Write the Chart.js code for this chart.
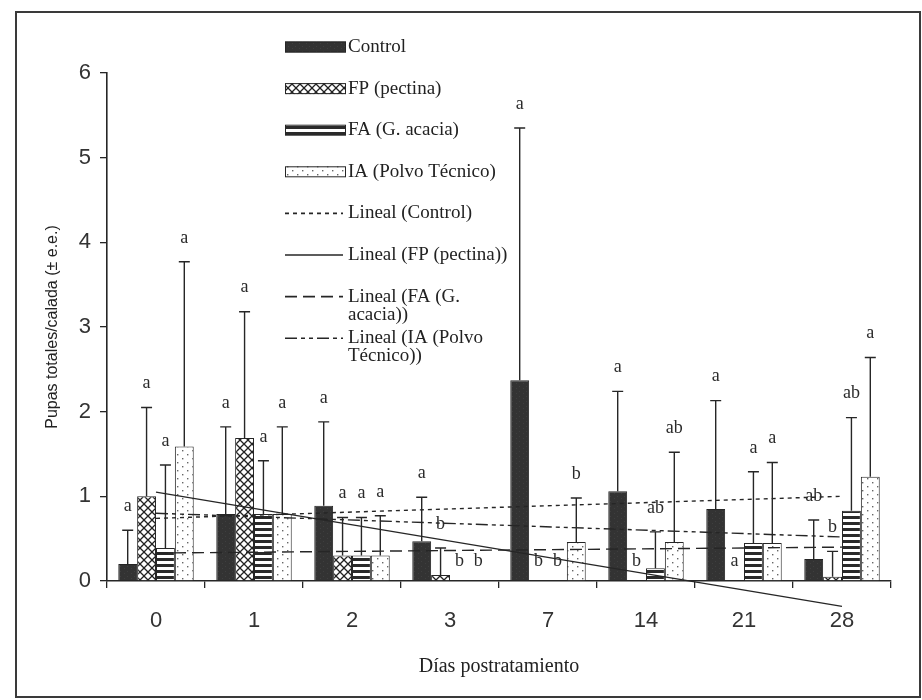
<!DOCTYPE html>
<html>
<head>
<meta charset="utf-8">
<title>Pupas totales/calada</title>
<script src="https://cdn.jsdelivr.net/npm/chart.js@4.4.0/dist/chart.umd.min.js"></script>
<style>
    html, body { margin: 0; padding: 0; background: #fff; }
    #wrap { width: 922px; height: 700px; }
</style>
</head>
<body>
<div id="wrap"><canvas id="myChart" width="922" height="700"></canvas></div>
<script>
/* Pupas totales por calada, por tratamiento y día postratamiento */
const dias = ['0', '1', '2', '3', '7', '14', '21', '28'];

// medias
const control = [0.20, 0.79, 0.89, 0.47, 2.37, 1.06, 0.85, 0.26];
const fp      = [1.00, 1.69, 0.30, 0.07, 0, 0, 0, 0.05];
const fa      = [0.39, 0.79, 0.30, 0, 0, 0.15, 0.45, 0.83];
const ia      = [1.59, 0.79, 0.30, 0, 0.46, 0.46, 0.45, 1.23];

// error estándar (solo hacia arriba)
const controlErr = [0.40, 1.03, 0.99, 0.52, 2.98, 1.18, 1.28, 0.46];
const fpErr      = [1.05, 1.49, 0.45, 0.32, 0, 0, 0, 0.30];
const faErr      = [0.98, 0.63, 0.45, 0, 0, 0.43, 0.84, 1.10];
const iaErr      = [2.18, 1.03, 0.47, 0, 0.52, 1.06, 0.95, 1.41];

// letras de significancia
const controlSig = ['a', 'a', 'a', 'a', 'a', 'a', 'a', 'ab'];
const fpSig      = ['a', 'a', 'a', 'b', 'b', 'b', 'a', 'b'];
const faSig      = ['a', 'a', 'a', 'b', 'b', 'ab', 'a', 'ab'];
const iaSig      = ['a', 'a', 'a', 'b', 'b', 'ab', 'a', 'a'];

// líneas de tendencia (valor en día 0 y en día 28)
const trendControl = [0.74, 1.00];
const trendFp      = [1.05, -0.30];
const trendFa      = [0.33, 0.40];
const trendIa      = [0.80, 0.52];

const serif = '"Liberation Serif", "Times New Roman", serif';
const sans = '"Liberation Sans", Arial, sans-serif';
const ink = '#262626';

let ctx = document.getElementById('myChart').getContext('2d');

function pattern(w, h, draw) {
    let c = document.createElement('canvas');
    c.width = w;
    c.height = h;
    draw(c.getContext('2d'));
    return ctx.createPattern(c, 'repeat');
}

// relleno oscuro con grano fino
let patControl = pattern(7, 5, function (g) {
    g.fillStyle = '#333';
    g.fillRect(0, 0, 7, 5);
    g.fillStyle = '#3f3f3f';
    g.fillRect(1, 1, 1, 1);
    g.fillRect(5, 3, 1, 1);
});
// cuadriculado diagonal
let patFp = pattern(8, 8, function (g) {
    g.fillStyle = '#fff';
    g.fillRect(0, 0, 8, 8);
    g.strokeStyle = '#222';
    g.lineWidth = 1.3;
    g.beginPath();
    g.moveTo(0, 0); g.lineTo(8, 8);
    g.moveTo(8, 0); g.lineTo(0, 8);
    g.stroke();
});
// rayas horizontales
let patFa = pattern(8, 6, function (g) {
    g.fillStyle = '#fff';
    g.fillRect(0, 0, 8, 6);
    g.fillStyle = '#2a2a2a';
    g.fillRect(0, 0, 8, 3);
});
// punteado
let patIa = pattern(10, 8, function (g) {
    g.fillStyle = '#fff';
    g.fillRect(0, 0, 10, 8);
    g.fillStyle = '#666';
    g.fillRect(2, 2, 1.4, 1.4);
    g.fillRect(7, 6, 1.4, 1.4);
});

function barSet(label, data, errors, letters, fill) {
    return {
        type: 'bar',
        label: label,
        data: data,
        errors: errors,
        letters: letters,
        backgroundColor: fill,
        borderColor: ink,
        borderWidth: 1,
        barPercentage: 1,
        categoryPercentage: 0.77,
        order: 1
    };
}

function trendSet(label, ends, dash) {
    return {
        type: 'line',
        label: label,
        data: [{x: dias[0], y: ends[0]}, {x: dias[dias.length - 1], y: ends[1]}],
        borderColor: ink,
        borderWidth: 1.4,
        borderDash: dash,
        pointRadius: 0,
        fill: false,
        clip: false,
        order: 0
    };
}

/* marco de la figura */
const frame = {
    id: 'frame',
    beforeDraw(chart) {
        let c = chart.ctx;
        c.save();
        c.fillStyle = '#fff';
        c.fillRect(0, 0, chart.width, chart.height);
        c.strokeStyle = '#3a3a3a';
        c.lineWidth = 2;
        c.strokeRect(16, 12, 904, 685);
        c.restore();
    }
};

/* barras de error y letras */
const errorBars = {
    id: 'errorBars',
    afterDatasetsDraw(chart) {
        let c = chart.ctx;
        let y = chart.scales.y;
        c.save();
        c.strokeStyle = ink;
        c.fillStyle = '#2a2a2a';
        c.lineWidth = 1.4;
        c.font = '18px ' + serif;
        c.textAlign = 'center';
        c.textBaseline = 'middle';
        chart.data.datasets.forEach(function (ds, i) {
            if (!ds.errors) return;
            chart.getDatasetMeta(i).data.forEach(function (bar, j) {
                let e = ds.errors[j];
                let top = y.getPixelForValue(ds.data[j] + e);
                if (e > 0) {
                    c.beginPath();
                    c.moveTo(bar.x, bar.y);
                    c.lineTo(bar.x, top);
                    c.moveTo(bar.x - 5.5, top);
                    c.lineTo(bar.x + 5.5, top);
                    c.stroke();
                }
                c.fillText(ds.letters[j], bar.x, top - (e > 0 ? 24 : 20));
            });
        });
        c.restore();
    }
};

/* leyenda dentro del área del gráfico */
const insideLegend = {
    id: 'insideLegend',
    afterDraw(chart) {
        let c = chart.ctx;
        let x0 = 285, textX = 348, y0 = 47, step = 41.6, maxW = 163, lineH = 18;
        c.save();
        c.font = '19px ' + serif;
        c.textBaseline = 'middle';
        c.fillStyle = '#222';
        chart.data.datasets.forEach(function (ds, i) {
            let yc = y0 + i * step;
            c.strokeStyle = ink;
            if (ds.type === 'bar') {
                c.fillStyle = ds.backgroundColor;
                c.fillRect(x0, yc - 5.5, 61, 11);
                c.lineWidth = 1;
                c.setLineDash([]);
                c.strokeRect(x0 + 0.5, yc - 5, 60, 10);
            } else {
                c.lineWidth = 1.6;
                c.setLineDash(ds.borderDash || []);
                c.beginPath();
                c.moveTo(x0, yc);
                c.lineTo(x0 + 58, yc);
                c.stroke();
                c.setLineDash([]);
            }
            // texto con salto de línea
            let words = ds.label.split(' ');
            let lines = [];
            let cur = '';
            words.forEach(function (w) {
                let test = cur ? cur + ' ' + w : w;
                if (cur && c.measureText(test).width > maxW) {
                    lines.push(cur);
                    cur = w;
                } else {
                    cur = test;
                }
            });
            lines.push(cur);
            c.fillStyle = '#222';
            lines.forEach(function (t, k) {
                c.fillText(t, textX, yc + k * lineH);
            });
        });
        c.restore();
    }
};

let myChart = new Chart(ctx, {
    type: 'bar',
    data: {
        labels: dias,
        datasets: [
            barSet('Control', control, controlErr, controlSig, patControl),
            barSet('FP (pectina)', fp, fpErr, fpSig, patFp),
            barSet('FA (G. acacia)', fa, faErr, faSig, patFa),
            barSet('IA (Polvo Técnico)', ia, iaErr, iaSig, patIa),
            trendSet('Lineal (Control)', trendControl, [4, 4]),
            trendSet('Lineal (FP (pectina))', trendFp, []),
            trendSet('Lineal (FA (G. acacia))', trendFa, [12, 6]),
            trendSet('Lineal (IA (Polvo Técnico))', trendIa, [12, 4, 4, 4, 4, 4])
        ]
    },
    options: {
        responsive: false,
        animation: false,
        events: [],
        layout: {
            padding: {top: 73, right: 31, bottom: 0, left: 0}
        },
        plugins: {
            legend: {display: false},
            tooltip: {enabled: false}
        },
        scales: {
            x: {
                grid: {
                    display: true,
                    drawOnChartArea: false,
                    drawTicks: true,
                    tickLength: 7,
                    color: ink,
                    lineWidth: 1.3,
                    offset: true
                },
                border: {display: true, color: ink, width: 1.6},
                ticks: {
                    color: '#333',
                    font: {family: sans, size: 22},
                    padding: 20
                },
                title: {
                    display: true,
                    text: 'Días postratamiento',
                    color: '#222',
                    font: {family: serif, size: 20},
                    padding: {top: 0, bottom: 21}
                },
                afterFit: function (s) { s.height = 119; }
            },
            y: {
                min: 0,
                max: 6,
                grid: {
                    display: true,
                    drawOnChartArea: false,
                    drawTicks: true,
                    tickLength: 7,
                    color: ink,
                    lineWidth: 1.3
                },
                border: {display: true, color: ink, width: 1.6},
                ticks: {
                    stepSize: 1,
                    color: '#333',
                    font: {family: sans, size: 22},
                    padding: 9
                },
                title: {
                    display: true,
                    text: 'Pupas totales/calada (± e.e.)',
                    color: '#222',
                    font: {family: sans, size: 16},
                    padding: {top: 43, bottom: 0}
                },
                afterFit: function (s) { s.width = 107; }
            }
        }
    },
    plugins: [frame, errorBars, insideLegend]
});
</script>
</body>
</html>
